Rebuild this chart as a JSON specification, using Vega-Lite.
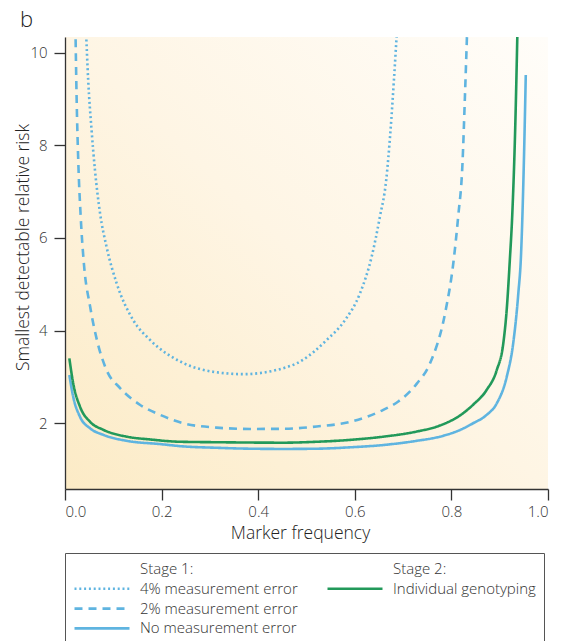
{
  "$schema": "https://vega.github.io/schema/vega-lite/v6.json",
  "autosize": {"type": "none"},
  "width": 483,
  "height": 452,
  "padding": {"left": 65, "top": 37, "right": 22, "bottom": 152},
  "background": "white",
  "title": {"text": "b", "anchor": "start", "frame": "group", "dx": -45, "offset": 5, "fontSize": 22, "fontWeight": 300, "color": "#222", "font": "Open Sans"},
  "config": {
    "font": "Open Sans",
    "view": {"stroke": null, "fill": {"gradient": "linear", "x1": 0, "y1": 1, "x2": 1, "y2": 0, "stops": [{"offset": 0, "color": "#fcebc6"}, {"offset": 0.5, "color": "#fef5e4"}, {"offset": 1, "color": "#fffdf9"}]}},
    "axis": {"grid": false, "domainColor": "#333", "domainWidth": 1.3, "tickColor": "#333", "tickWidth": 1.3, "tickSize": 11, "labelFontSize": 15, "labelFontWeight": 300, "labelColor": "#333", "titleFontSize": 17.5, "titleFontWeight": 300, "titleColor": "#222"}
  },
  "data": {"values": [
    {"series": "No measurement error", "f": 0.009, "r": 3.04},
    {"series": "No measurement error", "f": 0.017, "r": 2.57},
    {"series": "No measurement error", "f": 0.031, "r": 2.14},
    {"series": "No measurement error", "f": 0.052, "r": 1.89},
    {"series": "No measurement error", "f": 0.079, "r": 1.75},
    {"series": "No measurement error", "f": 0.128, "r": 1.62},
    {"series": "No measurement error", "f": 0.197, "r": 1.55},
    {"series": "No measurement error", "f": 0.245, "r": 1.5},
    {"series": "No measurement error", "f": 0.314, "r": 1.47},
    {"series": "No measurement error", "f": 0.383, "r": 1.45},
    {"series": "No measurement error", "f": 0.452, "r": 1.445},
    {"series": "No measurement error", "f": 0.521, "r": 1.45},
    {"series": "No measurement error", "f": 0.59, "r": 1.48},
    {"series": "No measurement error", "f": 0.659, "r": 1.53},
    {"series": "No measurement error", "f": 0.728, "r": 1.62},
    {"series": "No measurement error", "f": 0.776, "r": 1.71},
    {"series": "No measurement error", "f": 0.818, "r": 1.855},
    {"series": "No measurement error", "f": 0.845, "r": 2.0},
    {"series": "No measurement error", "f": 0.873, "r": 2.18},
    {"series": "No measurement error", "f": 0.894, "r": 2.43},
    {"series": "No measurement error", "f": 0.9145, "r": 3.0},
    {"series": "No measurement error", "f": 0.928, "r": 3.73},
    {"series": "No measurement error", "f": 0.9386, "r": 4.81},
    {"series": "No measurement error", "f": 0.944, "r": 5.6},
    {"series": "No measurement error", "f": 0.95, "r": 7.62},
    {"series": "No measurement error", "f": 0.954, "r": 9.52},
    {"series": "Individual genotyping", "f": 0.009, "r": 3.4},
    {"series": "Individual genotyping", "f": 0.017, "r": 2.86},
    {"series": "Individual genotyping", "f": 0.031, "r": 2.36},
    {"series": "Individual genotyping", "f": 0.052, "r": 2.03},
    {"series": "Individual genotyping", "f": 0.079, "r": 1.86},
    {"series": "Individual genotyping", "f": 0.128, "r": 1.71},
    {"series": "Individual genotyping", "f": 0.176, "r": 1.65},
    {"series": "Individual genotyping", "f": 0.238, "r": 1.6},
    {"series": "Individual genotyping", "f": 0.314, "r": 1.59},
    {"series": "Individual genotyping", "f": 0.452, "r": 1.58},
    {"series": "Individual genotyping", "f": 0.521, "r": 1.6},
    {"series": "Individual genotyping", "f": 0.59, "r": 1.64},
    {"series": "Individual genotyping", "f": 0.659, "r": 1.71},
    {"series": "Individual genotyping", "f": 0.728, "r": 1.82},
    {"series": "Individual genotyping", "f": 0.776, "r": 1.95},
    {"series": "Individual genotyping", "f": 0.818, "r": 2.17},
    {"series": "Individual genotyping", "f": 0.845, "r": 2.4},
    {"series": "Individual genotyping", "f": 0.873, "r": 2.72},
    {"series": "Individual genotyping", "f": 0.894, "r": 3.15},
    {"series": "Individual genotyping", "f": 0.9075, "r": 3.73},
    {"series": "Individual genotyping", "f": 0.9145, "r": 4.45},
    {"series": "Individual genotyping", "f": 0.921, "r": 5.53},
    {"series": "Individual genotyping", "f": 0.926, "r": 6.5},
    {"series": "Individual genotyping", "f": 0.932, "r": 8.33},
    {"series": "Individual genotyping", "f": 0.937, "r": 10.6},
    {"series": "2% measurement error", "f": 0.0215, "r": 10.6},
    {"series": "2% measurement error", "f": 0.024, "r": 9.05},
    {"series": "2% measurement error", "f": 0.0276, "r": 7.62},
    {"series": "2% measurement error", "f": 0.0325, "r": 6.46},
    {"series": "2% measurement error", "f": 0.039, "r": 5.46},
    {"series": "2% measurement error", "f": 0.052, "r": 4.52},
    {"series": "2% measurement error", "f": 0.066, "r": 3.8},
    {"series": "2% measurement error", "f": 0.086, "r": 3.15},
    {"series": "2% measurement error", "f": 0.114, "r": 2.76},
    {"series": "2% measurement error", "f": 0.155, "r": 2.4},
    {"series": "2% measurement error", "f": 0.197, "r": 2.18},
    {"series": "2% measurement error", "f": 0.245, "r": 2.0},
    {"series": "2% measurement error", "f": 0.314, "r": 1.905},
    {"series": "2% measurement error", "f": 0.383, "r": 1.877},
    {"series": "2% measurement error", "f": 0.452, "r": 1.88},
    {"series": "2% measurement error", "f": 0.521, "r": 1.93},
    {"series": "2% measurement error", "f": 0.59, "r": 2.03},
    {"series": "2% measurement error", "f": 0.659, "r": 2.29},
    {"series": "2% measurement error", "f": 0.69, "r": 2.47},
    {"series": "2% measurement error", "f": 0.728, "r": 2.85},
    {"series": "2% measurement error", "f": 0.756, "r": 3.3},
    {"series": "2% measurement error", "f": 0.787, "r": 4.38},
    {"series": "2% measurement error", "f": 0.804, "r": 5.46},
    {"series": "2% measurement error", "f": 0.814, "r": 6.46},
    {"series": "2% measurement error", "f": 0.823, "r": 7.62},
    {"series": "2% measurement error", "f": 0.828, "r": 9.05},
    {"series": "2% measurement error", "f": 0.833, "r": 10.6},
    {"series": "4% measurement error", "f": 0.043, "r": 10.6},
    {"series": "4% measurement error", "f": 0.048, "r": 9.41},
    {"series": "4% measurement error", "f": 0.055, "r": 8.33},
    {"series": "4% measurement error", "f": 0.062, "r": 7.47},
    {"series": "4% measurement error", "f": 0.0725, "r": 6.54},
    {"series": "4% measurement error", "f": 0.086, "r": 5.81},
    {"series": "4% measurement error", "f": 0.107, "r": 5.02},
    {"series": "4% measurement error", "f": 0.141, "r": 4.23},
    {"series": "4% measurement error", "f": 0.176, "r": 3.8},
    {"series": "4% measurement error", "f": 0.245, "r": 3.3},
    {"series": "4% measurement error", "f": 0.314, "r": 3.1},
    {"series": "4% measurement error", "f": 0.369, "r": 3.06},
    {"series": "4% measurement error", "f": 0.438, "r": 3.15},
    {"series": "4% measurement error", "f": 0.493, "r": 3.37},
    {"series": "4% measurement error", "f": 0.542, "r": 3.8},
    {"series": "4% measurement error", "f": 0.58, "r": 4.23},
    {"series": "4% measurement error", "f": 0.611, "r": 4.81},
    {"series": "4% measurement error", "f": 0.635, "r": 5.6},
    {"series": "4% measurement error", "f": 0.652, "r": 6.46},
    {"series": "4% measurement error", "f": 0.665, "r": 7.25},
    {"series": "4% measurement error", "f": 0.674, "r": 8.33},
    {"series": "4% measurement error", "f": 0.681, "r": 9.41},
    {"series": "4% measurement error", "f": 0.688, "r": 10.6}
  ]},
  "mark": {"type": "line", "clip": true, "strokeWidth": 2.6, "interpolate": "monotone"},
  "encoding": {
    "x": {"field": "f", "type": "quantitative", "scale": {"domain": [0, 1], "nice": false}, "axis": {"values": [0, 0.2, 0.4, 0.6, 0.8, 1.0], "format": ".1f", "title": "Marker frequency", "titleX": 235, "labelPadding": 4, "titlePadding": 5}},
    "y": {"field": "r", "type": "quantitative", "scale": {"domain": [0.58, 10.34], "nice": false, "zero": false}, "axis": {"values": [2, 4, 6, 8, 10], "title": "Smallest detectable relative risk", "titleY": 210, "labelPadding": 7, "titlePadding": -3}},
    "color": {"field": "series", "type": "nominal",
      "scale": {"domain": ["Stage 1:", "4% measurement error", "2% measurement error", "No measurement error", "Stage 2:", "Individual genotyping", "b1", "b2"],
                "range": ["#ffffff", "#5fb4e0", "#5fb4e0", "#5fb4e0", "#ffffff", "#22995a", "#ffffff", "#ffffff"]},
      "legend": {"title": null, "orient": "none", "legendX": 0, "legendY": 516, "columns": 2, "symbolType": "stroke", "symbolSize": 3025, "symbolStrokeWidth": 2.6, "clipHeight": 16, "labelFontSize": 15, "labelFontWeight": 300, "labelColor": "#333", "labelOffset": 9, "columnPadding": 28, "rowPadding": 3.8, "padding": 8, "strokeColor": "#555", "labelExpr": "datum.label == 'b1' || datum.label == 'b2' ? '' : datum.label",
        "encode": {"symbols": {"update": {"opacity": {"signal": "indexof(['Stage 1:','Stage 2:','b1','b2'], datum.value) >= 0 ? 0 : 1"}}}}}},
    "strokeDash": {"field": "series", "type": "nominal",
      "scale": {"domain": ["Stage 1:", "4% measurement error", "2% measurement error", "No measurement error", "Stage 2:", "Individual genotyping", "b1", "b2"],
                "range": [[1, 0], [2, 2.8], [8, 6], [1, 0], [1, 0], [1, 0], [1, 0], [1, 0]]}}
  }
}
